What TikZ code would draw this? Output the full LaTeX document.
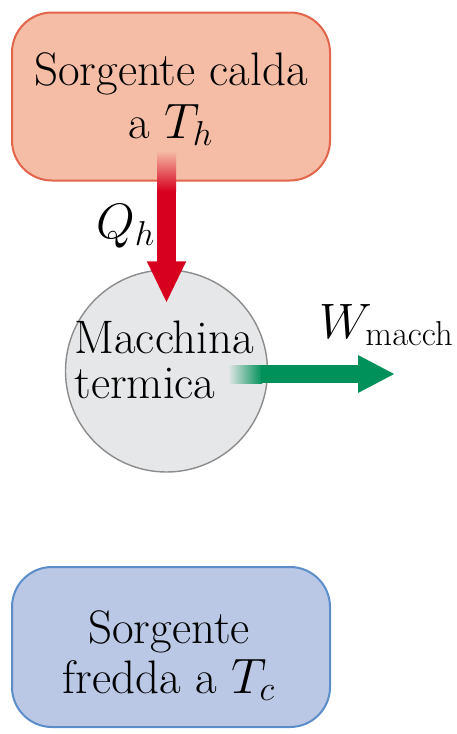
\documentclass[tikz,border=0pt]{standalone}
\usetikzlibrary{arrows.meta,calc}

\definecolor{hotfill}{HTML}{F5BDA6}
\definecolor{hotline}{HTML}{E2654B}
\definecolor{coldfill}{HTML}{BAC8E6}
\definecolor{coldline}{HTML}{5B8DC8}
\definecolor{enginefill}{HTML}{E6E7E8}
\definecolor{engineline}{HTML}{8C8C8C}
\definecolor{heatred}{HTML}{D7001F}
\definecolor{workgreen}{HTML}{00915A}

\tikzset{
  reservoir/.style={draw, line width=1pt, rounded corners=20pt,
    minimum width=159pt, minimum height=84pt, inner sep=0pt},
  txt/.style={font=\fontsize{23.5}{26}\selectfont, inner sep=0pt},
  heatarrow/.style={heatred, line width=9.5pt,
    -{Triangle[length=21pt,width=18pt]}},
  workarrow/.style={workgreen, line width=9pt,
    -{Triangle[length=18.5pt,width=17.5pt]}},
}

\begin{document}
\begin{tikzpicture}[x=0.5pt,y=-0.5pt]
\useasboundingbox (0,0) rectangle (456,734);

% hot and cold reservoirs
\node[reservoir, fill=hotfill, draw=hotline] (hot) at (171,96.5) {};
\node[reservoir, fill=coldfill, draw=coldline, minimum height=80pt] (cold) at (171,647) {};

% engine
\node[circle, draw=engineline, line width=0.7pt, fill=enginefill,
      minimum size=101pt, inner sep=0pt] (engine) at (166.5,371) {};

% heat flow Q_h out of the hot reservoir
\coordinate (qtop) at ($(hot.south)+(-4.5,-31)$);
\coordinate (qfade) at ($(hot.south)+(-4.5,9)$);
\coordinate (qtip) at ($(engine.north)+(0,34)$);
\shade[top color=hotfill, bottom color=heatred]
  ($(qtop)+(-9.5,0)$) rectangle ($(qfade)+(9.5,1)$);
\draw[heatarrow] (qfade) -- (qtip);

% work output
\coordinate (wstart) at (228,374);
\coordinate (wfade) at (261,374);
\coordinate (wtip) at (395,374);
\shade[left color=enginefill, right color=workgreen]
  ($(wstart)+(0,-9)$) rectangle ($(wfade)+(1,9)$);
\draw[workarrow] (wfade) -- (wtip);

% texts
\node[txt, anchor=base] (hot1) at (171,85) {Sorgente calda};
\node[txt, anchor=base] (hot2) at (171,138) {a $T_h$};
\node[txt, anchor=base west] (eng1) at (74,353) {Macchina};
\node[txt, anchor=base west] (eng2) at (74,398) {termica};
\node[txt, anchor=base] (cold1) at (169,643) {Sorgente};
\node[txt, anchor=base] (cold2) at (169,693) {fredda a $T_c$};
\node[txt, anchor=base west] (qlabel) at (96,238) {$Q_h$};
\node[txt, anchor=base west] (wlabel) at (319,338) {$W_{\mathrm{macch}}$};
\end{tikzpicture}
\end{document}
